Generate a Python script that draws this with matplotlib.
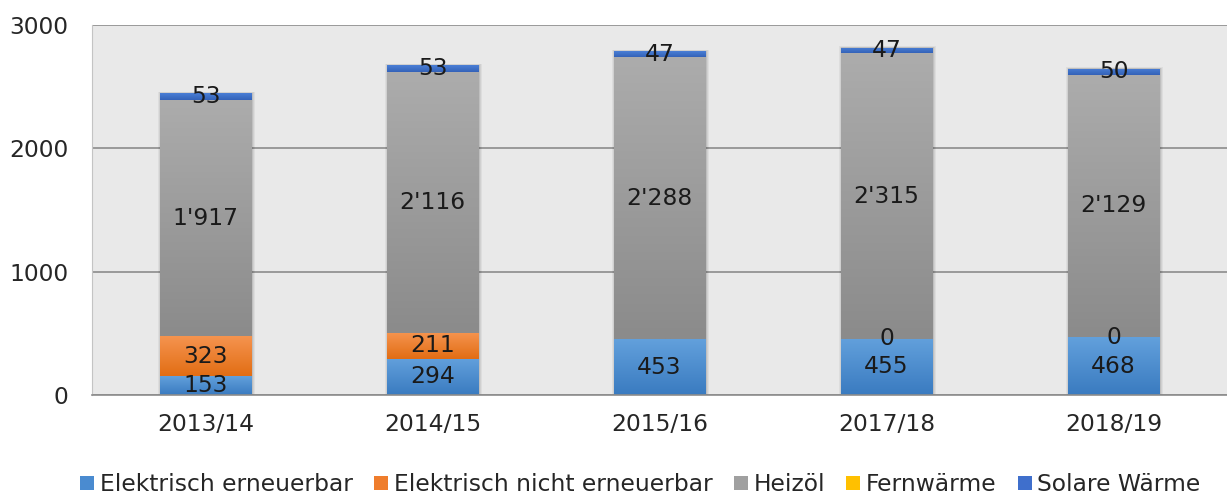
import numpy as np
import matplotlib
matplotlib.use("Agg")
import matplotlib.pyplot as plt
from matplotlib.patches import Rectangle
from matplotlib.colors import LinearSegmentedColormap

plt.rcParams['font.family'] = ['DejaVu Sans']

categories = ['2013/14', '2014/15', '2015/16', '2017/18', '2018/19']
el_erneuerbar = [153, 294, 453, 455, 468]
el_nicht_erneuerbar = [323, 211, np.nan, 0, 0]
heizoel = [1917, 2116, 2288, 2315, 2129]
fernwaerme = [np.nan, np.nan, np.nan, np.nan, np.nan]
solare_waerme = [53, 53, 47, 47, 50]

series = [
    ('Elektrisch erneuerbar', el_erneuerbar, ('#62a0dc', '#3a7bc0'), '#4a8bd0', True),
    ('Elektrisch nicht erneuerbar', el_nicht_erneuerbar, ('#f5944f', '#e26d14'), '#ef7d2c', True),
    ('Heizöl', heizoel, ('#acacac', '#8b8b8b'), '#a0a0a0', True),
    ('Fernwärme', fernwaerme, ('#ffc000', '#f0b000'), '#ffc000', False),
    ('Solare Wärme', solare_waerme, ('#4a7fd6', '#3462b8'), '#3f6fcc', True),
]

fig = plt.figure(figsize=(12.27, 4.95), dpi=100)
ax = fig.add_axes([92/1227, 100/495, 1 - 92/1227, 370/495])
ax.set_facecolor('#e9e9e9')
ax.set_xlim(-0.5, len(categories) - 0.5)
ax.set_ylim(0, 3000)
ax.set_yticks([0, 1000, 2000, 3000])
ax.yaxis.grid(True, color='#8c8c8c', linewidth=1.2)
ax.set_axisbelow(True)
for s in ['top', 'right']:
    ax.spines[s].set_visible(False)
ax.spines['left'].set_color('#c4c4c4')
ax.spines['bottom'].set_color('#8c8c8c')
ax.spines['bottom'].set_linewidth(1.2)
ax.tick_params(axis='both', length=0, labelsize=16.8, colors='#262626')
ax.tick_params(axis='y', pad=17)
ax.tick_params(axis='x', pad=13)

x = np.arange(len(categories))
width = 0.405

def fmt(v):
    return f"{int(round(v)):,}".replace(',', "'")

bottom = np.zeros(len(categories))
handles = []
# soft shadows behind the bars
tot = np.nansum(np.array([s[1] for s in series], dtype=float), axis=0)
for xi, t in zip(x, tot):
    for k, a in [(0.035, 0.05), (0.024, 0.06), (0.012, 0.08)]:
        ax.add_patch(Rectangle((xi - width/2 - k/3 + 0.004, 0), width + 2*k/3, t + k*300,
                               facecolor='black', alpha=a, edgecolor='none', zorder=1.5))

for name, vals, (ctop, cbot), legc, show in series:
    v = np.array(vals, dtype=float)
    h = np.nan_to_num(v)
    bars = ax.bar(x, h, width, bottom=bottom, color=cbot, edgecolor='none', zorder=2)
    cmap = LinearSegmentedColormap.from_list(name, [cbot, ctop])
    for b in bars:
        if b.get_height() <= 0:
            continue
        bx, by = b.get_x(), b.get_y()
        bw, bh = b.get_width(), b.get_height()
        grad = np.linspace(0, 1, 100).reshape(-1, 1)
        im = ax.imshow(grad, cmap=cmap, origin='lower', aspect='auto',
                       extent=(bx, bx + bw, by, by + bh), zorder=2.5)
        im.set_clip_path(b)
    if show:
        for xi, vi, bi in zip(x, v, bottom):
            if np.isnan(vi):
                continue
            ax.text(xi, bi + vi/2, fmt(vi), ha='center', va='center',
                    fontsize=16.8, color='#1a1a1a', zorder=4)
    bottom = bottom + h
    handles.append(Rectangle((0, 0), 1, 1, facecolor=legc, edgecolor='none', label=name))

ax.set_xticks(x)
ax.set_xticklabels(categories)

leg = fig.legend(handles=handles, loc='lower center', bbox_to_anchor=(0.522, -0.045),
                 ncol=5, frameon=False, fontsize=16.8, handlelength=0.6, handleheight=0.6,
                 handletextpad=0.25, columnspacing=0.9)
for t in leg.get_texts():
    t.set_color('#262626')

fig.savefig('out.png', dpi=100)
